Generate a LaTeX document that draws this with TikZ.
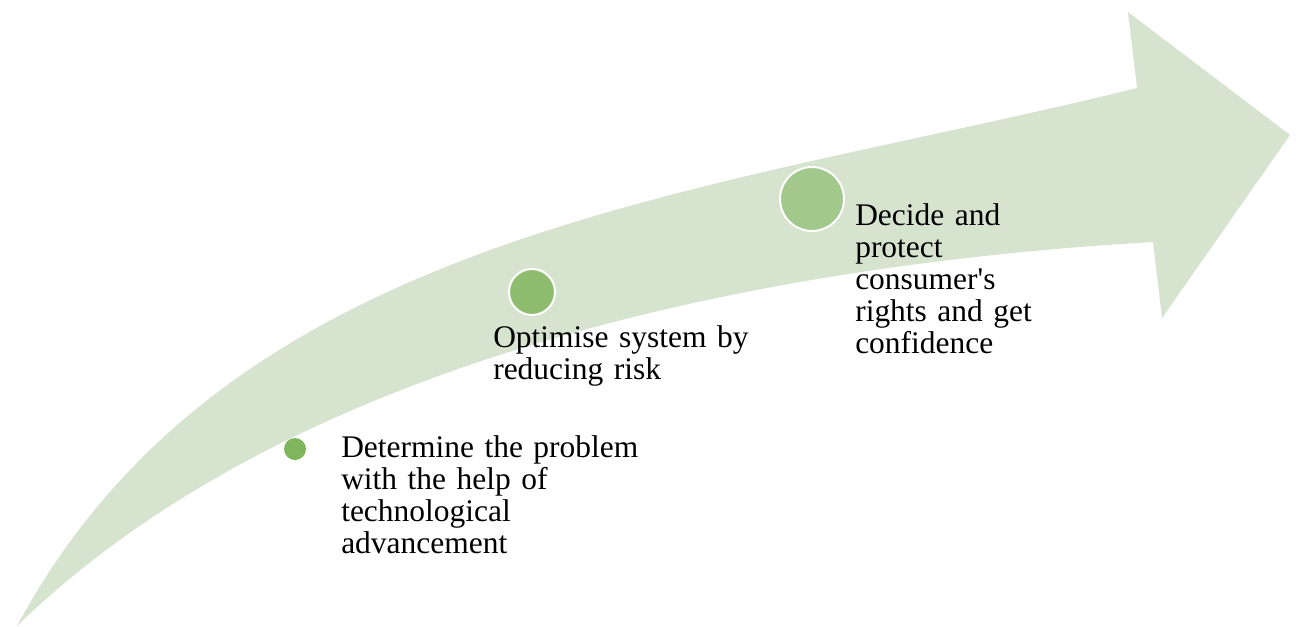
\documentclass[tikz,border=0pt]{standalone}
\usepackage{fontspec}
\setmainfont{Liberation Serif}
\definecolor{bandgreen}{RGB}{214,227,206}
\definecolor{dotone}{RGB}{127,181,93}
\definecolor{dottwo}{RGB}{143,189,111}
\definecolor{dotthree}{RGB}{163,200,139}
\tikzset{
  band/.style={fill=bandgreen, draw=none},
  dot/.style={circle, inner sep=0pt, draw=white, line width=1.5pt},
  label/.style={anchor=base west, inner sep=0pt, text width=250pt, align=left,
    font=\fontsize{23.6}{24}\selectfont}
}
\begin{document}
\begin{tikzpicture}[x=0.75pt, y=-0.75pt]
\useasboundingbox (0,0) rectangle (1296,626);
\fill[band] (17,626) .. controls (230,230) and (700,196) .. (1137,88)
  -- (1128,12) -- (1290,135) -- (1162,318) -- (1153,242)
  .. controls (754,265) and (289,361) .. (17,626) -- cycle;
\node[dot, draw=none, fill=dotone, minimum size=16.5pt] (c1) at (295,449) {};
\node[dot, fill=dottwo, minimum size=34.5pt] (c2) at (532,292) {};
\node[dot, fill=dotthree, minimum size=48pt] (c3) at (812,199) {};
\node[label] (t1) at (341,457) {Determine the problem\\with the help of\\technological\\advancement};
\node[label] (t2) at (493,347) {Optimise system by\\reducing risk};
\node[label] (t3) at (855,225) {Decide and\\protect\\consumer\textquotesingle s\\rights and get\\confidence};
\end{tikzpicture}
\end{document}
